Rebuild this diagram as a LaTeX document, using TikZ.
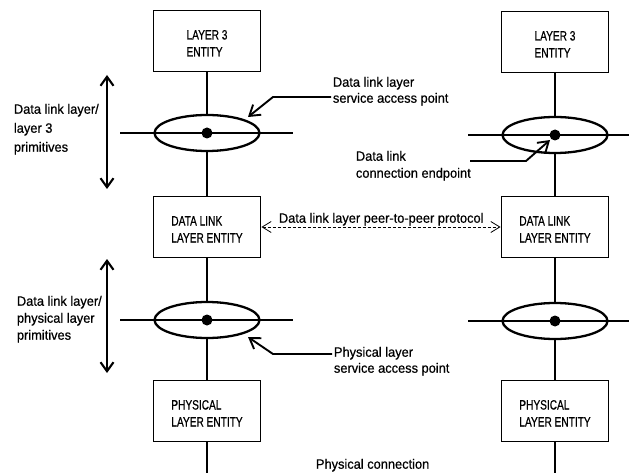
\documentclass[tikz,border=0pt]{standalone}
\usepackage{fontspec}
\setmainfont{Liberation Sans}
\newfontfamily\lblfont[FakeStretch=0.95,FakeBold=0.6]{Liberation Sans}
\newfontfamily\boxfont[FakeStretch=0.75,FakeBold=0.6]{Liberation Sans}
\usetikzlibrary{arrows.meta,shapes.geometric}
% taller first line so the box text sits a little below centre
\newcommand\dropstrut{\rule{0pt}{14pt}}

\begin{document}
\begin{tikzpicture}[x=1pt,y=-1pt,
  line width=1.9pt,
  entity/.style={draw, line width=1.9pt, minimum width=107pt, minimum height=61pt,
    inner sep=0pt, align=left, font=\boxfont\fontsize{13.5}{17}\selectfont},
  sap/.style={draw, ellipse, line width=2.3pt, minimum width=105pt, minimum height=36pt, inner sep=0pt},
  cep/.style={circle, fill, inner sep=0pt, minimum size=11pt},
  lbl/.style={inner sep=0pt, align=left, anchor=north west},
  lblA/.style={lbl, font=\lblfont\fontsize{13.5}{19}\selectfont},
  lblB/.style={lbl, font=\lblfont\fontsize{13.5}{17}\selectfont},
  lblC/.style={lbl, font=\lblfont\fontsize{13.5}{16}\selectfont},
  both/.style={{Straight Barb[length=9pt,width=13pt]}-{Straight Barb[length=9pt,width=13pt]}, line width=2.1pt},
  leader/.style={-{Straight Barb[length=10pt,width=13pt]}, line width=1.9pt},
  peer/.style={{Straight Barb[length=9pt,width=11pt,line width=0.8pt]}-{Straight Barb[length=9pt,width=11pt,line width=0.8pt]},
    dash pattern=on 3pt off 2pt, line width=0.8pt}
]
\useasboundingbox (0,0) rectangle (629,473);

% ---- left stack ----
\node[entity] (l3L) at (207,41)  {\dropstrut LAYER 3\\ENTITY};
\node[entity] (dlL) at (207,227) {\dropstrut DATA LINK\\LAYER ENTITY};
\node[entity] (phL) at (207,411) {\dropstrut PHYSICAL\\LAYER ENTITY};
\coordinate (h1a) at (120,133); \coordinate (h1b) at (293,133);
\coordinate (h2a) at (120,320); \coordinate (h2b) at (293,320);
\draw (h1a) -- (h1b);
\draw (h2a) -- (h2b);
\node[sap] (s1L) at (207,133) {};
\node[sap] (s2L) at (207,320) {};
\node[cep] (e1L) at (207,133) {};
\node[cep] (e2L) at (207,320) {};
\coordinate (bL) at (207,473);
\draw (l3L.south) -- (s1L.north);
\draw (s1L.south) -- (dlL.north);
\draw (dlL.south) -- (s2L.north);
\draw (s2L.south) -- (phL.north);
\draw (phL.south) -- (bL);

% ---- right stack ----
\node[entity] (l3R) at (555,42)  {\dropstrut LAYER 3\\ENTITY};
\node[entity] (dlR) at (555,227) {\dropstrut DATA LINK\\LAYER ENTITY};
\node[entity] (phR) at (555,411) {\dropstrut PHYSICAL\\LAYER ENTITY};
\coordinate (h3a) at (468,135); \coordinate (h3b) at (629,135);
\coordinate (h4a) at (468,321); \coordinate (h4b) at (629,321);
\draw (h3a) -- (h3b);
\draw (h4a) -- (h4b);
\node[sap] (s1R) at (555,135) {};
\node[sap] (s2R) at (555,321) {};
\node[cep] (e1R) at (555,135) {};
\node[cep] (e2R) at (555,321) {};
\coordinate (bR) at (555,473);
\draw (l3R.south) -- (s1R.north);
\draw (s1R.south) -- (dlR.north);
\draw (dlR.south) -- (s2R.north);
\draw (s2R.south) -- (phR.north);
\draw (phR.south) -- (bR);

% ---- peer protocol ----
\draw[peer] (dlL.east) -- (dlR.west);
\node[lblA] (pp) at (278,212) {Data link layer peer-to-peer protocol};

% ---- primitives arrows and labels ----
\coordinate (a1t) at (107,75);  \coordinate (a1b) at (107,189);
\coordinate (a2t) at (107,259); \coordinate (a2b) at (107,373);
\draw[both] (a1t) -- (a1b);
\draw[both] (a2t) -- (a2b);
\node[lblA] (pr1) at (13,103) {Data link layer/\\layer 3\\primitives};
\node[lblB] (pr2) at (16,295) {Data link layer/\\physical layer\\primitives};

% ---- leader labels ----
\node[lblC] (sapD) at (332,76) {Data link layer\\service access point};
\coordinate (k1s) at (331,97); \coordinate (k1c) at (273,97); \coordinate (k1t) at (248,117);
\draw[leader] (k1s) -- (k1c) -- (k1t);

\node[lblB] (cepD) at (355,150) {Data link\\connection endpoint};
\coordinate (k2s) at (470,161); \coordinate (k2c) at (526,161); \coordinate (k2t) at (550,140);
\draw[leader] (k2s) -- (k2c) -- (k2t);

\node[lblC] (sapP) at (333,346) {Physical layer\\service access point};
\coordinate (k3s) at (332,354); \coordinate (k3c) at (273,354); \coordinate (k3t) at (248,337);
\draw[leader] (k3s) -- (k3c) -- (k3t);

\node[lblA] (pc) at (315,458) {Physical connection};
\end{tikzpicture}
\end{document}
